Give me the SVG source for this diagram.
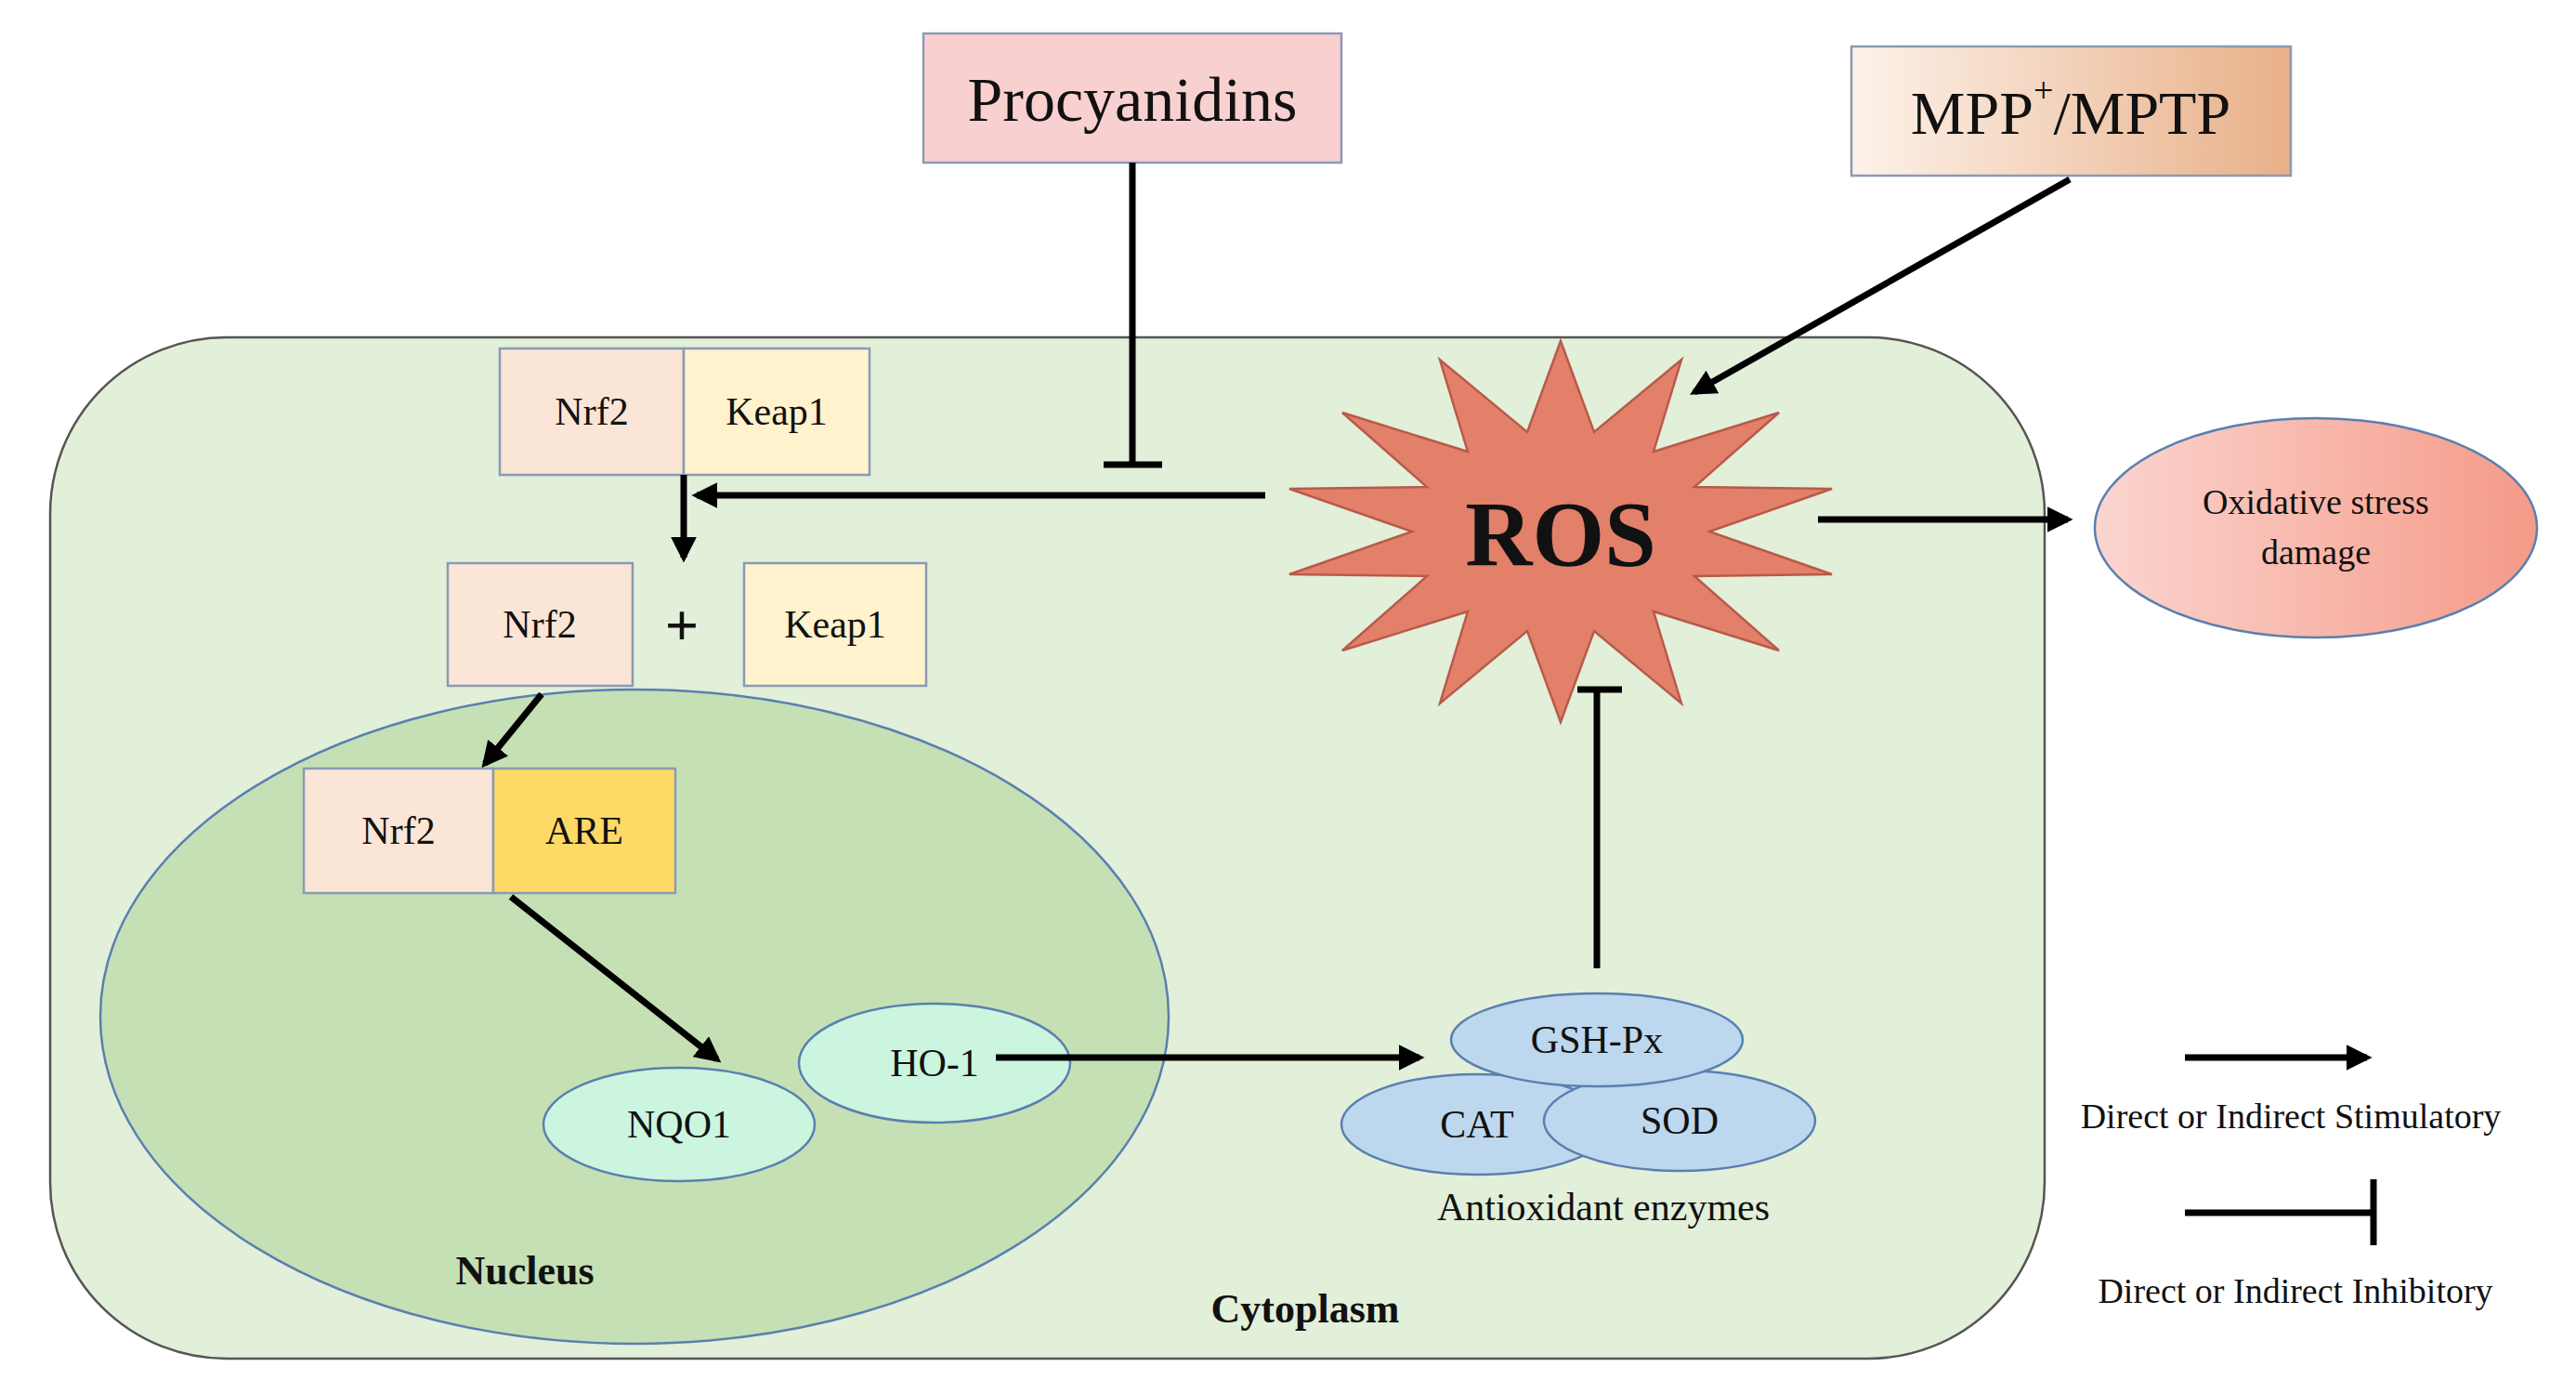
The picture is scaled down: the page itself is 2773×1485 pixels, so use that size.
<svg xmlns="http://www.w3.org/2000/svg" width="2773" height="1485" viewBox="0 0 2773 1485">
<style>
text{font-family:"Liberation Serif",serif;fill:#111;text-anchor:middle;dominant-baseline:central}
.box{stroke:#8a9ab5;stroke-width:2.5}
.ell{stroke:#5a7fb0;stroke-width:2.5}
.c{stroke:#000;stroke-width:7;fill:none}
.n{font-size:42px}
</style>
<defs>
<marker id="a" viewBox="0 0 10 10" refX="8" refY="5" markerWidth="4" markerHeight="4" orient="auto" markerUnits="strokeWidth"><path d="M0,0L10,5L0,10z" fill="#000"/></marker>
<linearGradient id="mpp" x1="0" x2="1"><stop offset="0" stop-color="#fdf2ea"/><stop offset="1" stop-color="#e8b088"/></linearGradient>
<linearGradient id="ox" x1="0" x2="1"><stop offset="0" stop-color="#fbd5d0"/><stop offset="1" stop-color="#f59a88"/></linearGradient>
</defs>
<g id="cytoplasm"><rect x="54" y="363" width="2147" height="1099" rx="190" fill="#e2efd9" stroke="#555" stroke-width="2.5"/><text x="1405" y="1408" font-size="44" font-weight="bold">Cytoplasm</text></g>
<g id="nucleus"><ellipse cx="683" cy="1094" rx="575" ry="352" fill="#c5e0b4" stroke="#5a7fb0" stroke-width="2.5"/><text x="565" y="1367" font-size="44" font-weight="bold">Nucleus</text></g>
<g id="procyanidins"><rect class="box" x="994" y="36" width="450" height="139" fill="#f8d0d0"/><text x="1219" y="107" font-size="68">Procyanidins</text></g>
<g id="mpp"><rect class="box" x="1993" y="50" width="473" height="139" fill="url(#mpp)"/><text x="2229" y="121" font-size="66">MPP<tspan font-size="38" dy="-24">+</tspan><tspan dy="24">/MPTP</tspan></text></g>
<g id="nrf2keap1"><rect class="box" x="538" y="375" width="198" height="136" fill="#fbe5d6"/><text class="n" x="637" y="443">Nrf2</text><rect class="box" x="736" y="375" width="200" height="136" fill="#fff2cc"/><text class="n" x="836" y="443">Keap1</text></g>
<g id="nrf2"><rect class="box" x="482" y="606" width="199" height="132" fill="#fbe5d6"/><text class="n" x="581" y="672">Nrf2</text></g>
<text x="734" y="672" font-size="64" font-weight="bold">+</text>
<g id="keap1"><rect class="box" x="801" y="606" width="196" height="132" fill="#fff2cc"/><text class="n" x="899" y="672">Keap1</text></g>
<g id="nrf2are"><rect class="box" x="327" y="827" width="204" height="134" fill="#fbe5d6"/><text class="n" x="429" y="894">Nrf2</text><rect class="box" x="531" y="827" width="196" height="134" fill="#ffd966"/><text class="n" x="629" y="894">ARE</text></g>
<g id="ros"><polygon points="1680,367 1716,465 1810,387 1780,486 1915,444 1824,524 1972,526 1840,572 1972,618 1824,620 1915,700 1780,658 1810,757 1716,679 1680,777 1644,679 1550,757 1580,658 1445,700 1536,620 1388,618 1520,572 1388,526 1536,524 1445,444 1580,486 1550,387 1644,465" fill="#e2806a" stroke="#b85a4a" stroke-width="2.5"/><text x="1680" y="574" font-size="100" font-weight="bold">ROS</text></g>
<g id="oxidative"><ellipse class="ell" cx="2493" cy="568" rx="238" ry="118" fill="url(#ox)"/><text x="2493" y="540" font-size="38">Oxidative stress</text><text x="2493" y="594" font-size="38">damage</text></g>
<g id="nqo1"><ellipse class="ell" cx="731" cy="1210" rx="146" ry="61" fill="#ccf5e0"/><text class="n" x="731" y="1210">NQO1</text></g>
<g id="ho1"><ellipse class="ell" cx="1006" cy="1144" rx="146" ry="64" fill="#ccf5e0"/><text class="n" x="1006" y="1144">HO-1</text></g>
<g id="cat"><ellipse class="ell" cx="1590" cy="1210" rx="146" ry="54" fill="#bdd7ee"/><text class="n" x="1590" y="1210">CAT</text></g>
<g id="sod"><ellipse class="ell" cx="1808" cy="1206" rx="146" ry="54" fill="#bdd7ee"/><text class="n" x="1808" y="1206">SOD</text></g>
<g id="gsh"><ellipse class="ell" cx="1719" cy="1119" rx="157" ry="50" fill="#bdd7ee"/><text class="n" x="1719" y="1119">GSH-Px</text></g>
<text x="1726" y="1299" font-size="42">Antioxidant enzymes</text>
<g id="connectors">
<path class="c" d="M1219,175V500M1188,500H1251"/>
<path class="c" d="M1362,533H750" marker-end="url(#a)"/>
<path class="c" d="M736,511V600" marker-end="url(#a)"/>
<path class="c" d="M583,747L522,822" marker-end="url(#a)"/>
<path class="c" d="M550,965L772,1140" marker-end="url(#a)"/>
<path class="c" d="M1072,1138H1528" marker-end="url(#a)"/>
<path class="c" d="M1719,1042V742M1698,742H1746"/>
<path class="c" d="M2228,193L1824,422" marker-end="url(#a)"/>
<path class="c" d="M1957,559H2226" marker-end="url(#a)"/>
<path class="c" d="M2352,1138H2548" marker-end="url(#a)"/>
<path class="c" d="M2352,1305H2555M2555,1269V1340"/>
</g>
<text x="2466" y="1201" font-size="38">Direct or Indirect Stimulatory</text>
<text x="2471" y="1389" font-size="38">Direct or Indirect Inhibitory</text>
</svg>
